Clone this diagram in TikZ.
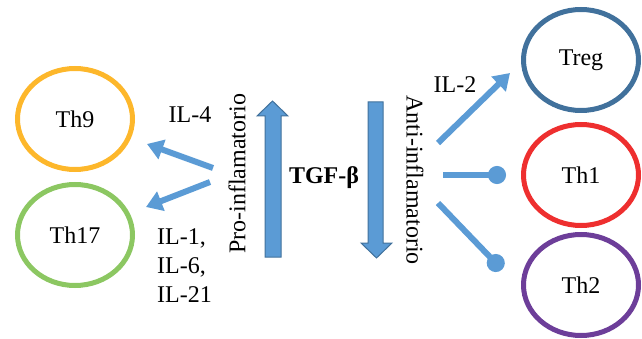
\documentclass[tikz,border=0pt]{standalone}
\usepackage{fontspec}
\setmainfont{Liberation Serif}
\usetikzlibrary{shapes.geometric,arrows.meta}
\definecolor{arrblue}{HTML}{5B9BD5}
\definecolor{arredge}{HTML}{41719C}
\definecolor{cTheight}{HTML}{FDB72B}
\definecolor{cThgreen}{HTML}{8CC762}
\definecolor{cTreg}{HTML}{41719C}
\definecolor{cThred}{HTML}{EE2F2F}
\definecolor{cThpurple}{HTML}{6D3E99}
\begin{document}
\begin{tikzpicture}[x=1pt,y=-1pt,
  font=\fontsize{24}{29}\selectfont,
  cell/.style={ellipse,draw,line width=5pt,minimum width=115pt,minimum height=101pt,inner sep=0pt},
  lbl/.style={inner sep=0pt},
  thinarrow/.style={draw=arrblue,line width=6pt,-{Triangle[length=16pt,width=20pt]}},
  dotline/.style={draw=arrblue,line width=6pt,-{Circle[length=18pt,width=18pt]}},
  block/.style={fill=arrblue,draw=arredge,line width=1pt,line join=miter}]
\useasboundingbox (0,0) rectangle (642,339);
% cells
\node[cell,draw=cTheight] (th9) at (75,119) {Th9};
\node[cell,draw=cThgreen] (th17) at (75,235) {Th17};
\node[cell,draw=cTreg] (treg) at (581,60) {Treg};
\node[cell,draw=cThred] (th1) at (581,175) {Th1};
\node[cell,draw=cThpurple] (th2) at (581,285) {Th2};
% labels
\node[lbl] (il4) at (190,115) {IL-4};
\node[lbl,align=left,anchor=west] (il16) at (157,266) {IL-1,\\IL-6,\\IL-21};
\node[lbl] (il2) at (455,85) {IL-2};
\node[lbl,rotate=90] (pro) at (237,174) {Pro-inflamatorio};
\node[lbl,rotate=-90] (anti) at (415,180) {Anti-inflamatorio};
\node[lbl,font=\fontsize{24}{29}\selectfont\bfseries] (tgf) at (324,178) {TGF-β};
% block arrows
\draw[block] (265,257) -- (265,116) -- (257,116) -- (272.5,101) -- (288,116) -- (281,116) -- (281,257) -- cycle;
\draw[block] (368,102) -- (368,243) -- (361,243) -- (376.5,258) -- (392,243) -- (383,243) -- (383,102) -- cycle;
% connector coordinates
\coordinate (s9) at (213,168);
\coordinate (e9) at (147,144);
\coordinate (s17) at (210,182);
\coordinate (e17) at (146,207);
\coordinate (sreg) at (438,143);
\coordinate (ereg) at (510,73);
\coordinate (s1) at (443,175);
\coordinate (e1) at (506,175);
\coordinate (s2) at (438,203);
\coordinate (e2) at (502,269.5);
\draw[thinarrow] (s9) -- (e9);
\draw[thinarrow] (s17) -- (e17);
\draw[thinarrow] (sreg) -- (ereg);
\draw[dotline] (s1) -- (e1);
\draw[dotline] (s2) -- (e2);
\end{tikzpicture}
\end{document}
